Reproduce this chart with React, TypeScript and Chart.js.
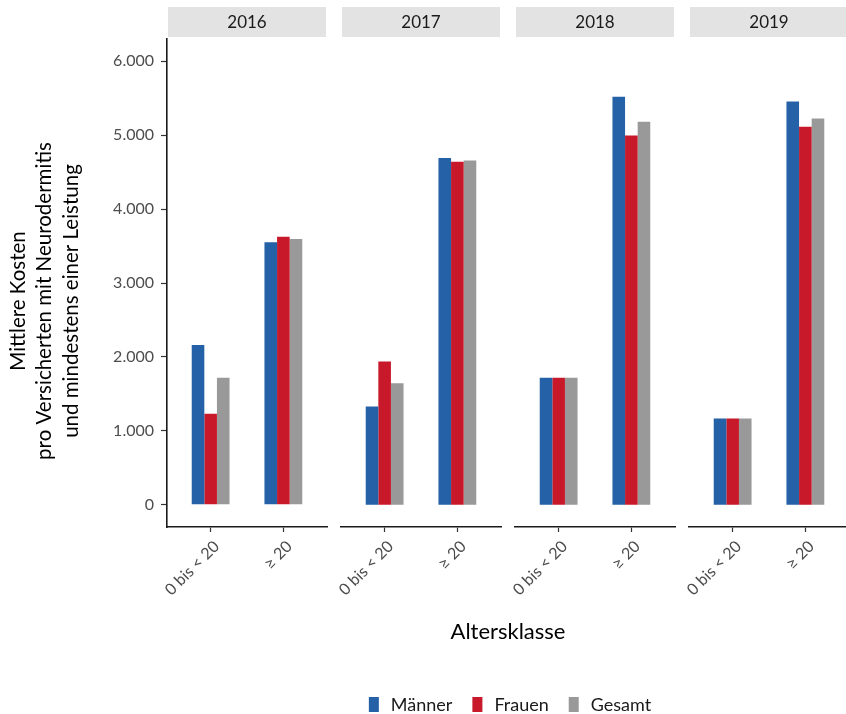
import React, { useEffect, useRef } from 'react';
import { Chart, registerables } from 'chart.js';
Chart.register(...registerables);

const years = ['2016', '2017', '2018', '2019'];
const categories = ['0 bis < 20', '≥ 20'];
const seriesNames = ['Männer', 'Frauen', 'Gesamt'];
const seriesColors = ['#2561a6', '#c8192a', '#999999'];
// per year: [0 bis < 20, ≥ 20]
const maenner = [[2162, 3550], [1329, 4689], [1720, 5518], [1167, 5455]];
const frauen = [[1230, 3626], [1937, 4640], [1720, 4995], [1167, 5113]];
const gesamt = [[1720, 3595], [1644, 4658], [1720, 5180], [1167, 5225]];
const yTicks = [0, 1000, 2000, 3000, 4000, 5000, 6000];
const yTitle = ['Mittlere Kosten', 'pro Versicherten mit Neurodermitis', 'und mindestens einer Leistung'];
const xTitle = 'Altersklasse';

const FONT = 'Lato, "Open Sans", sans-serif';
const W = 846;
const CW = 880; // canvas width (last panel is cut by the frame)
const H = 714;
const PLOT_TOP = 39;
const PLOT_BOTTOM = 527;
const PANEL_LEFT = [167, 341, 515, 689];
const PANEL_W = 160;
const X_AXIS_H = 80;

Chart.defaults.font.family = FONT;

function fmt(v: number) {
  return String(v).replace(/\B(?=(\d{3})+(?!\d))/g, '.');
}

const stripPlugin = {
  id: 'strip',
  afterDraw(chart: any, _args: any, opts: any) {
    const { ctx, chartArea } = chart;
    ctx.save();
    ctx.fillStyle = '#e3e3e3';
    ctx.fillRect(chartArea.left + 1, 7, chartArea.right - chartArea.left - 2, 30);
    ctx.fillStyle = '#1a1a1a';
    ctx.font = `17px ${FONT}`;
    ctx.textAlign = 'center';
    ctx.textBaseline = 'middle';
    ctx.fillText(opts.text, (chartArea.left + chartArea.right) / 2, 23);
    ctx.restore();
  },
};

const overlayPlugin = {
  id: 'overlay',
  afterDraw(chart: any) {
    const ctx = chart.ctx;
    ctx.save();
    // y axis title (three lines, rotated)
    ctx.fillStyle = '#000';
    ctx.font = `20.5px ${FONT}`;
    ctx.textAlign = 'center';
    ctx.textBaseline = 'middle';
    yTitle.forEach((line, i) => {
      ctx.save();
      ctx.translate(18 + i * 26.5, 301);
      ctx.rotate(-Math.PI / 2);
      ctx.fillText(line, 0, 0);
      ctx.restore();
    });
    // x axis title
    ctx.font = `22px ${FONT}`;
    const cx = (PANEL_LEFT[0] + PANEL_LEFT[3] + PANEL_W) / 2;
    ctx.fillText(xTitle, cx, 632);
    // legend
    ctx.font = `18px ${FONT}`;
    const boxW = 10, boxH = 15, gapText = 12, gapItem = 20;
    const widths = seriesNames.map((n) => ctx.measureText(n).width);
    const total = widths.reduce((a, w) => a + boxW + gapText + w, 0) + gapItem * (seriesNames.length - 1);
    let x = 510 - total / 2;
    ctx.textAlign = 'left';
    seriesNames.forEach((n, i) => {
      ctx.fillStyle = seriesColors[i];
      ctx.fillRect(x, 697, boxW, boxH);
      ctx.fillStyle = '#1a1a1a';
      ctx.fillText(n, x + boxW + gapText, 705);
      x += boxW + gapText + widths[i] + gapItem;
    });
    ctx.restore();
  },
};

function makeConfig(p: number): any {
  const first = p === 0;
  const axisBorder = { display: true, color: '#1a1a1a', width: 1.6 };
  return {
    type: 'bar',
    data: {
      datasets: [maenner, frauen, gesamt].map((s, i) => ({
        label: seriesNames[i],
        data: s[p].map((v, j) => ({ x: j + 1, y: v })),
        backgroundColor: seriesColors[i],
        borderWidth: 0,
        categoryPercentage: 0.52,
        barPercentage: 1,
      })),
    },
    options: {
      animation: false,
      responsive: false,
      events: [],
      layout: {
        padding: {
          top: PLOT_TOP,
          left: first ? 0 : PANEL_LEFT[p],
          right: CW - (PANEL_LEFT[p] + PANEL_W),
          bottom: H - PLOT_BOTTOM - X_AXIS_H,
        },
      },
      plugins: {
        legend: { display: false },
        tooltip: { enabled: false },
        strip: { text: years[p] },
      },
      scales: {
        x: {
          type: 'linear',
          min: 0.4,
          max: 2.6,
          offset: false,
          afterBuildTicks: (s: any) => {
            s.ticks = categories.map((_c, i) => ({ value: i + 1 }));
          },
          afterFit: (s: any) => {
            s.height = X_AXIS_H;
          },
          ticks: {
            callback: (v: any) => categories[Math.round(v) - 1] ?? '',
            autoSkip: false,
            maxRotation: 45,
            minRotation: 45,
            color: '#4d4d4d',
            font: { size: 16 },
            padding: 5,
            labelOffset: 6,
          },
          grid: {
            display: true,
            offset: false,
            drawOnChartArea: false,
            drawTicks: true,
            tickLength: 5,
            tickColor: '#333',
            tickWidth: 1.2,
          },
          border: axisBorder,
        },
        y: {
          display: first,
          min: -300,
          max: 6300,
          afterBuildTicks: (s: any) => {
            s.ticks = yTicks.map((v) => ({ value: v }));
          },
          afterFit: (s: any) => {
            s.width = first ? PANEL_LEFT[0] : 0;
          },
          ticks: {
            callback: (v: any) => fmt(v),
            color: '#4d4d4d',
            font: { size: 16 },
            padding: 7,
          },
          grid: {
            display: true,
            drawOnChartArea: false,
            drawTicks: true,
            tickLength: 6,
            tickColor: '#333',
            tickWidth: 1.2,
          },
          border: axisBorder,
          title: { display: false },
        },
      },
    },
    plugins: first ? [stripPlugin, overlayPlugin] : [stripPlugin],
  };
}

function Panel({ p }: { p: number }) {
  const ref = useRef<HTMLCanvasElement>(null);
  useEffect(() => {
    if (!ref.current) return;
    const chart = new Chart(ref.current, makeConfig(p));
    return () => chart.destroy();
  }, [p]);
  return (
    <canvas
      ref={ref}
      width={CW}
      height={H}
      style={{ position: 'absolute', left: 0, top: 0, width: CW, height: H }}
    />
  );
}

export default function App() {
  return (
    <div
      style={{
        position: 'absolute',
        left: 0,
        top: 0,
        width: W,
        height: H,
        overflow: 'hidden',
        background: '#fff',
      }}
    >
      {years.map((_y, p) => (
        <Panel key={p} p={p} />
      ))}
    </div>
  );
}
